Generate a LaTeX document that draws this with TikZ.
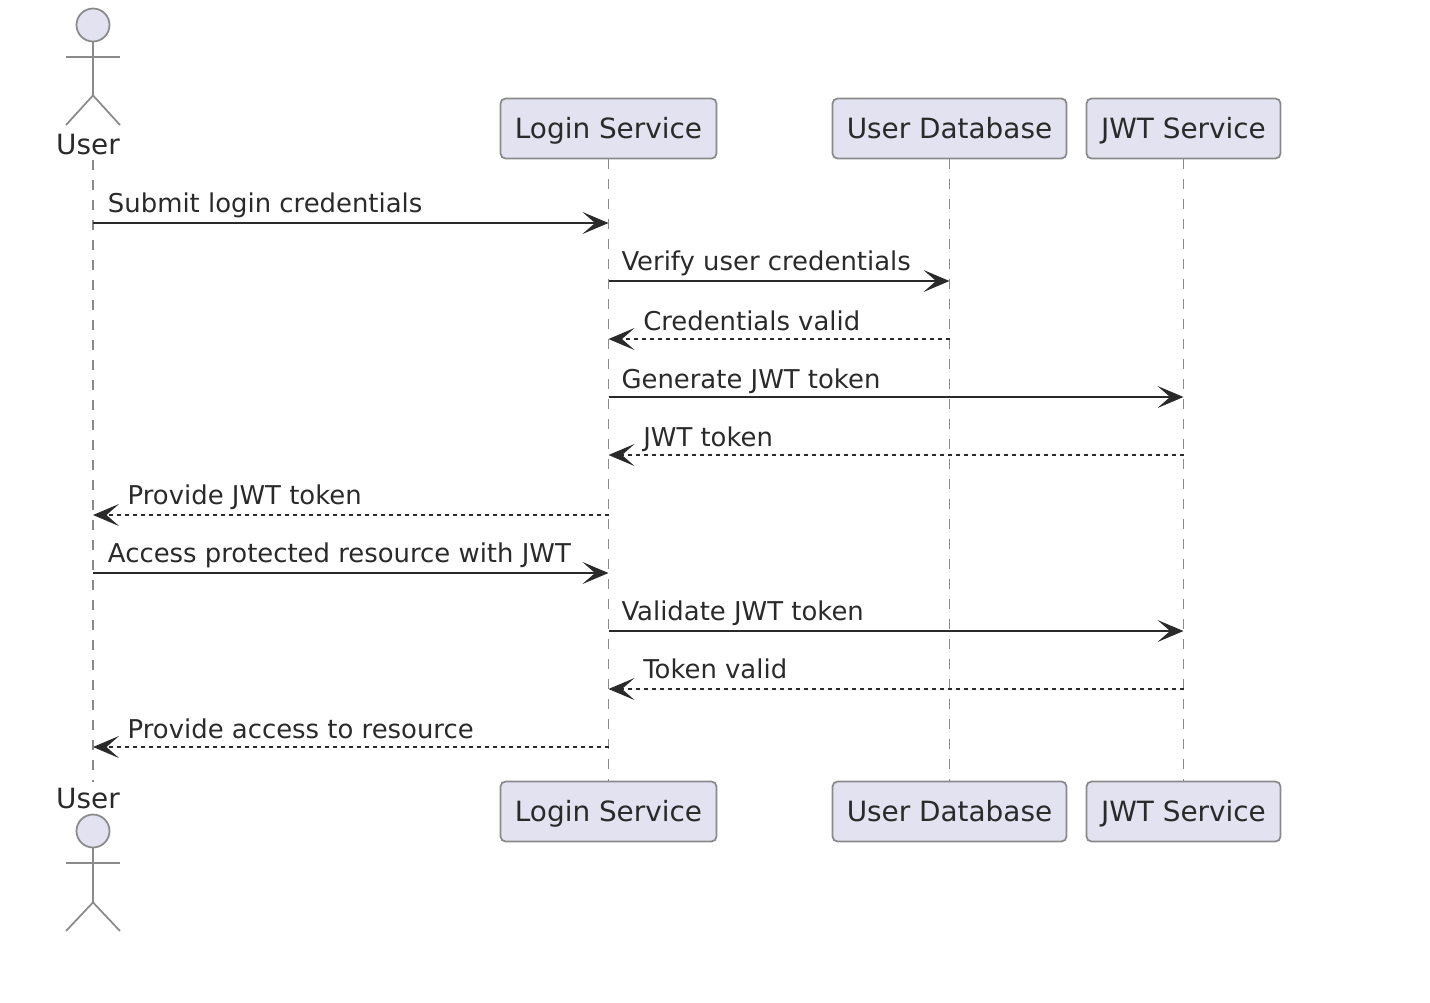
\documentclass[tikz,border=0pt]{standalone}
\usepackage{fontspec}
\setmainfont{DejaVu Sans}
\usetikzlibrary{arrows.meta}
\definecolor{boxfill}{HTML}{E2E2F0}
\definecolor{edge}{HTML}{8A8A8A}
\definecolor{ink}{HTML}{2A2A2A}
\begin{document}
\begin{tikzpicture}[
  x=.02cm, y=-.02cm,
  >={Stealth[length=.52cm, width=.44cm, inset=.25cm]},
  every node/.style={text=ink},
  service/.style={draw=edge, line width=.035cm, fill=boxfill, rounded corners=.1cm, inner sep=0pt,
    minimum height=1.2cm, text height=.5cm, text depth=.12cm, font=\fontsize{15.87}{19}\selectfont},
  head/.style={circle, draw=edge, line width=.035cm, fill=boxfill, inner sep=0pt, minimum size=.66cm},
  actor/.style={draw=edge, line width=.035cm},
  actorname/.style={inner sep=0pt, anchor=base, font=\fontsize{15.87}{19}\selectfont},
  lifeline/.style={draw=edge, line width=.035cm, dash pattern=on .2cm off .2cm},
  call/.style={draw=ink, line width=.04cm, ->},
  reply/.style={draw=ink, line width=.03cm, dash pattern=on .08cm off .08cm, ->},
  calltext/.style={pos=0, anchor=base west, inner sep=0pt, xshift=.24cm, yshift=.22cm, font=\fontsize{14.74}{18}\selectfont},
  replytext/.style={pos=1, anchor=base west, inner sep=0pt, xshift=.68cm, yshift=.2cm, font=\fontsize{14.74}{18}\selectfont},
]
\useasboundingbox (0,0) rectangle (1430,1002);

%participants
\node[service, minimum width=4.32cm] (loginTop) at (608.5,128.5) {Login Service};
\node[service, minimum width=4.68cm] (dbTop) at (949.5,128.5) {User Database};
\node[service, minimum width=3.88cm] (jwtTop) at (1183.5,128.5) {JWT Service};
\node[service, minimum width=4.32cm] (loginBot) at (608.5,811.5) {Login Service};
\node[service, minimum width=4.68cm] (dbBot) at (949.5,811.5) {User Database};
\node[service, minimum width=3.88cm] (jwtBot) at (1183.5,811.5) {JWT Service};

%actor top
\node[head] (headTop) at (93,25) {};
\draw[actor] (headTop.south) -- +(0,53) coordinate (hipTop);
\draw[actor] (66,57) -- (120,57);
\draw[actor] (66,125) -- (hipTop) -- (120,125);
\node[actorname] (userTop) at (88,154) {User};

%actor bottom
\node[head] (headBot) at (93,831) {};
\draw[actor] (headBot.south) -- +(0,54) coordinate (hipBot);
\draw[actor] (66,863) -- (120,863);
\draw[actor] (66,931) -- (hipBot) -- (120,931);
\node[actorname] (userBot) at (88,808) {User};

%lifelines
\coordinate (user) at (93,160);
\coordinate (userEnd) at (93,782);
\draw[lifeline] (user) -- (userEnd);
\draw[lifeline] (loginTop.south) -- (loginBot.north);
\draw[lifeline] (dbTop.south) -- (dbBot.north);
\draw[lifeline] (jwtTop.south) -- (jwtBot.north);

%rows
\coordinate (r1) at (0,223);
\coordinate (r2) at (0,281);
\coordinate (r3) at (0,339);
\coordinate (r4) at (0,397);
\coordinate (r5) at (0,455);
\coordinate (r6) at (0,515);
\coordinate (r7) at (0,573);
\coordinate (r8) at (0,631);
\coordinate (r9) at (0,689);
\coordinate (r10) at (0,747);

%messages
\draw[call] (user |- r1) -- (loginTop |- r1) node[calltext, xshift=.04cm] {Submit login credentials};
\draw[call] (loginTop |- r2) -- (dbTop |- r2) node[calltext] {Verify user credentials};
\draw[reply] (dbTop |- r3) -- (loginTop |- r3) node[replytext, yshift=-.02cm] {Credentials valid};
\draw[call] (loginTop |- r4) -- (jwtTop |- r4) node[calltext, yshift=-.04cm] {Generate JWT token};
\draw[reply] (jwtTop |- r5) -- (loginTop |- r5) node[replytext, yshift=-.02cm] {JWT token};
\draw[reply] (loginTop |- r6) -- (user |- r6) node[replytext, yshift=.02cm] {Provide JWT token};
\draw[call] (user |- r7) -- (loginTop |- r7) node[calltext, xshift=.04cm] {Access protected resource with JWT};
\draw[call] (loginTop |- r8) -- (jwtTop |- r8) node[calltext] {Validate JWT token};
\draw[reply] (jwtTop |- r9) -- (loginTop |- r9) node[replytext, yshift=.02cm] {Token valid};
\draw[reply] (loginTop |- r10) -- (user |- r10) node[replytext, yshift=-.02cm] {Provide access to resource};
\end{tikzpicture}
\end{document}
